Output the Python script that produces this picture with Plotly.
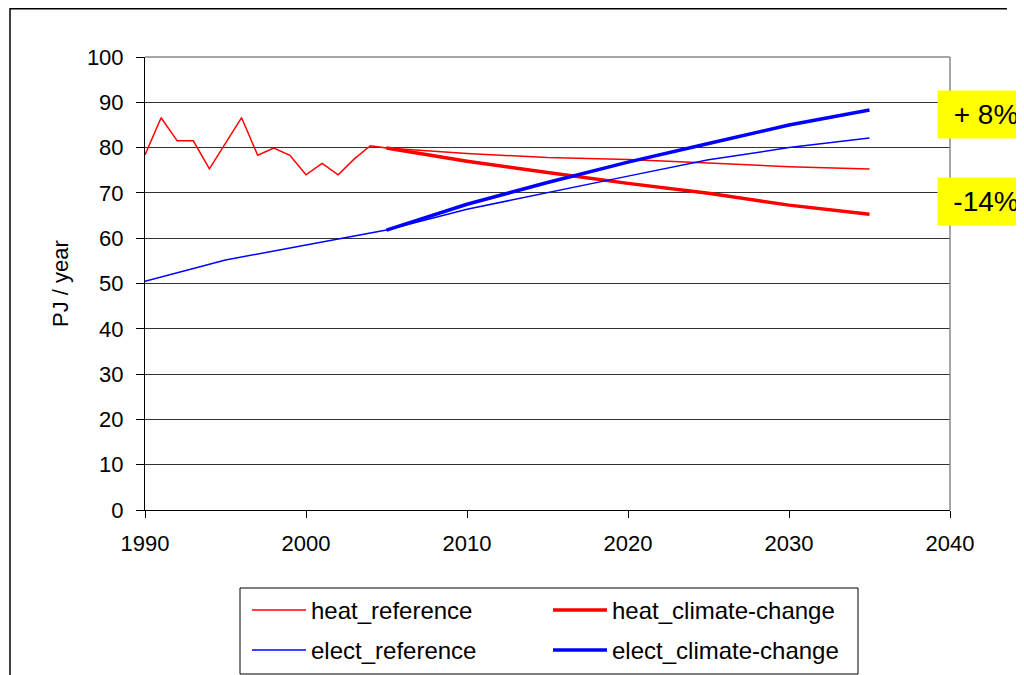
import plotly.graph_objects as go

# ---- data ----
hist_years = list(range(1990, 2006))
heat_hist = [78.4, 86.6, 81.5, 81.5, 75.3, 81.0, 86.6, 78.3, 79.9, 78.3,
             74.0, 76.5, 74.0, 77.5, 80.4, 79.9]
proj_years = [2005, 2010, 2015, 2020, 2025, 2030, 2035]
heat_ref_proj = [79.9, 78.7, 77.8, 77.4, 76.6, 75.8, 75.3]
heat_cc = [79.9, 77.0, 74.5, 72.1, 69.9, 67.3, 65.3]
elect_ref_years = [1990, 1995, 2000, 2005, 2010, 2015, 2020, 2025, 2030, 2035]
elect_ref = [50.5, 55.2, 58.5, 61.8, 66.4, 70.1, 73.7, 77.3, 80.0, 82.1]
elect_cc = [61.8, 67.5, 72.3, 76.8, 80.9, 85.0, 88.3]
labels = ["+ 8%", "-14%"]
label_y = [87.4, 68.0]

heat_ref_years = hist_years + proj_years[1:]
heat_ref = heat_hist + heat_ref_proj[1:]

FONT = "Liberation Sans, Arial, sans-serif"
OFF = 8  # page body margin
W, H = 1024 - OFF, 675 - OFF
L, T = 145 - OFF, 57 - OFF
R = W - (950 - OFF)
B = H - (510 - OFF)
pw, ph = W - L - R, H - T - B


def px2x(px):  # screen px -> paper x
    return (px - OFF - L) / pw


def px2y(py):  # screen px -> paper y
    return (H - B - (py - OFF)) / ph


series = [
    ("heat_reference", heat_ref_years, heat_ref, "#ff0000", 1.5),
    ("heat_climate-change", proj_years, heat_cc, "#ff0000", 3.5),
    ("elect_reference", elect_ref_years, elect_ref, "#0000ff", 1.5),
    ("elect_climate-change", proj_years, elect_cc, "#0000ff", 3.5),
]

fig = go.Figure()
for name, xs, ys, col, w in series:
    fig.add_trace(go.Scatter(x=xs, y=ys, mode="lines", name=name,
                             line=dict(color=col, width=w), showlegend=False))

fig.update_layout(
    width=W, height=H,
    margin=dict(l=L, r=R, t=T, b=B),
    paper_bgcolor="white", plot_bgcolor="white",
    font=dict(family=FONT, size=22, color="black"),
    showlegend=False,
)
fig.update_xaxes(range=[1990, 2040], tickvals=[1990, 2000, 2010, 2020, 2030, 2040],
                 showgrid=False, showline=True, linecolor="black", linewidth=1,
                 ticks="outside", ticklen=7, tickcolor="black", zeroline=False,
                 ticklabelstandoff=7,
                 tickfont=dict(size=22, family=FONT))
fig.update_yaxes(range=[0, 100], dtick=10, showgrid=True, gridcolor="#333333", gridwidth=1,
                 showline=True, linecolor="black", linewidth=1,
                 ticks="outside", ticklen=8, tickcolor="black", zeroline=False,
                 ticklabelstandoff=8,
                 title=dict(text="PJ / year", font=dict(size=22, family=FONT), standoff=12),
                 tickfont=dict(size=22, family=FONT))

shapes = [
    dict(type="line", xref="paper", yref="paper", x0=0, x1=1, y0=1, y1=1,
         line=dict(color="#888888", width=1.5)),
    dict(type="line", xref="paper", yref="paper", x0=1, x1=1, y0=0, y1=1,
         line=dict(color="#888888", width=1.5)),
    dict(type="line", xref="paper", yref="paper", x0=px2x(10), x1=px2x(1007),
         y0=px2y(8.8), y1=px2y(8.8), line=dict(color="black", width=1.5)),
    dict(type="line", xref="paper", yref="paper", x0=px2x(10), x1=px2x(10),
         y0=px2y(8), y1=px2y(680), line=dict(color="black", width=1.5)),
    # legend box
    dict(type="rect", xref="paper", yref="paper", x0=px2x(240), x1=px2x(858),
         y0=px2y(588), y1=px2y(674), line=dict(color="black", width=1), fillcolor="white",
         layer="above"),
]

# legend entries (2 columns x 2 rows), built from the series list
col_x = [252, 553]
row_y = [610, 650]
annotations = []
for i, (name, xs, ys, col, w) in enumerate(series):
    cx = col_x[i % 2]
    ry = row_y[i // 2]
    shapes.append(dict(type="line", xref="paper", yref="paper", x0=px2x(cx), x1=px2x(cx + 54),
                       y0=px2y(ry), y1=px2y(ry), line=dict(color=col, width=w), layer="above"))
    annotations.append(dict(x=px2x(cx + 57), xref="paper", y=px2y(ry), yref="paper",
                            text=name, showarrow=False, xanchor="left", yanchor="middle",
                            font=dict(size=24, family=FONT, color="black")))

for txt, yv in zip(labels, label_y):
    annotations.append(dict(x=px2x(937), xref="paper", y=yv, yref="y", text=txt, showarrow=False,
                            font=dict(size=28, family=FONT, color="black"),
                            bgcolor="#ffff00", borderpad=8, width=80, align="center",
                            xanchor="left", yanchor="middle"))

fig.update_layout(shapes=shapes, annotations=annotations)

fig.write_html("out.html")
